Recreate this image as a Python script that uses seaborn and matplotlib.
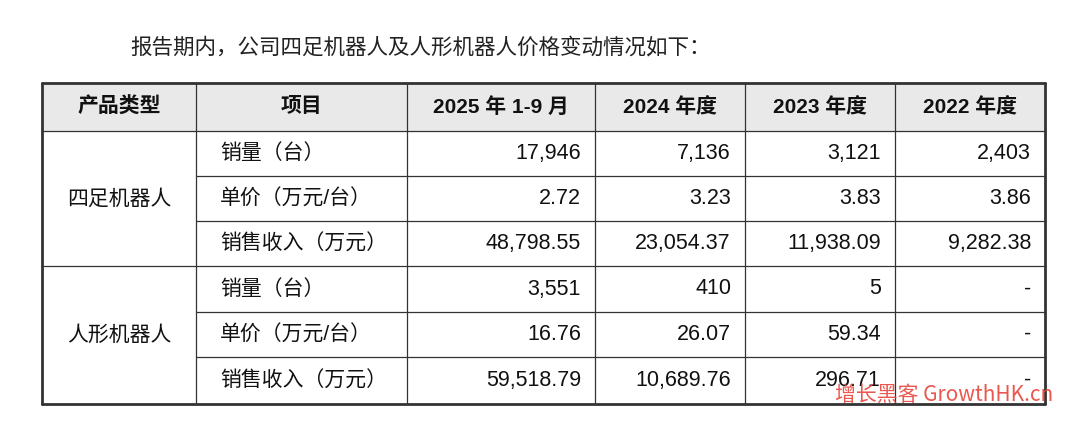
import matplotlib.pyplot as plt
import seaborn as sns

sns.set_style('white')
plt.rcParams['font.family'] = ['Liberation Sans', 'Noto Sans CJK SC', 'DejaVu Sans']

title = '报告期内，公司四足机器人及人形机器人价格变动情况如下：'
headers = ['产品类型', '项目', '2025 年 1-9 月', '2024 年度', '2023 年度', '2022 年度']
groups = ['四足机器人', '人形机器人']
items = ['销量（台）', '单价（万元/台）', '销售收入（万元）']
quad = [['17,946', '7,136', '3,121', '2,403'],
        ['2.72', '3.23', '3.83', '3.86'],
        ['48,798.55', '23,054.37', '11,938.09', '9,282.38']]
human = [['3,551', '410', '5', '-'],
         ['16.76', '26.07', '59.34', '-'],
         ['59,518.79', '10,689.76', '296.71', '-']]

col_x = [42, 196, 407, 595, 745, 895, 1045]
row_y = [83, 131, 176, 221, 266, 312, 357, 404]

fig = plt.figure(figsize=(10.8, 4.22), dpi=100)
ax = fig.add_axes([0, 0, 1, 1])
ax.set_xlim(0, 1080)
ax.set_ylim(422, 0)
ax.axis('off')

ax.text(130, 47, title, fontsize=15.5, va='center', ha='left', color='#222222',
        family=['Noto Sans CJK SC', 'DejaVu Sans'])

# header background
ax.fill_between([col_x[0], col_x[-1]], row_y[0], row_y[1], color='#e9e9e9', zorder=0)

lc = '#333333'
for i, y in enumerate(row_y):
    if i in (2, 3, 5, 6):
        ax.plot([col_x[1], col_x[-1]], [y, y], color=lc, lw=0.9)
    else:
        ax.plot([col_x[0], col_x[-1]], [y, y], color=lc, lw=0.9 if 0 < i < 7 else 2)
for i, x in enumerate(col_x):
    ax.plot([x, x], [row_y[0], row_y[-1]], color=lc, lw=2 if i in (0, 6) else 0.9)

hy = (row_y[0] + row_y[1]) / 2
for j, h in enumerate(headers):
    ax.text((col_x[j] + col_x[j + 1]) / 2, hy, h, fontsize=15, fontweight='bold',
            ha='center', va='center', color='#111111')

for g, (name, vals) in enumerate(zip(groups, [quad, human])):
    top = row_y[1 + 3 * g]
    bot = row_y[4 + 3 * g]
    ax.text((col_x[0] + col_x[1]) / 2, (top + bot) / 2, name, fontsize=15,
            ha='center', va='center', color='#111111')
    for r in range(3):
        y = (row_y[1 + 3 * g + r] + row_y[2 + 3 * g + r]) / 2
        ax.text(220, y, items[r], fontsize=15, ha='left', va='center', color='#111111')
        for c in range(4):
            ax.text(col_x[c + 3] - 14, y, vals[r][c], fontsize=15.5, ha='right',
                    va='center', color='#111111')

ax.text(835, 395, '增长黑客 GrowthHK.cn', fontsize=15, color='#e8453c',
        ha='left', va='center', alpha=0.9, family=['Noto Sans CJK SC', 'DejaVu Sans'])

fig.savefig('out.png', dpi=100)
